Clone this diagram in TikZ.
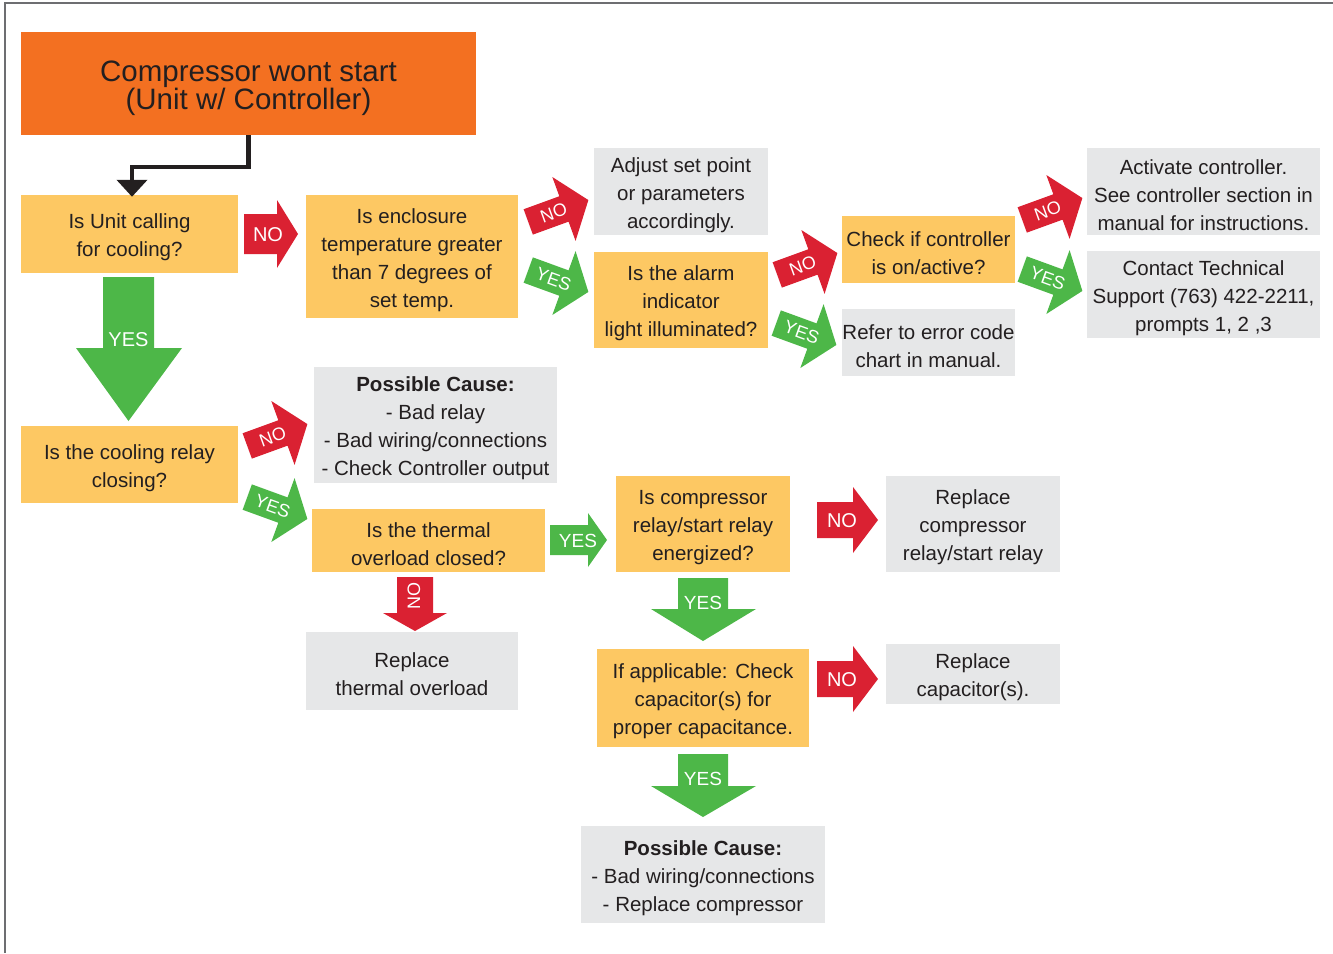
\documentclass[tikz,border=0pt]{standalone}
\usepackage{fontspec}
\setmainfont{Liberation Sans}
\usetikzlibrary{arrows.meta}
\definecolor{corange}{RGB}{243,112,33}
\definecolor{cyellow}{RGB}{253,200,99}
\definecolor{cgray}{RGB}{230,231,232}
\definecolor{cred}{RGB}{218,33,50}
\definecolor{cgreen}{RGB}{77,183,72}
\definecolor{ctext}{RGB}{35,31,32}
\definecolor{cborder}{RGB}{109,110,113}
\newcommand\fl{\rule{0pt}{22pt}}
\tikzset{
  box/.style={inner sep=0pt, align=center, text=ctext, font=\fontsize{20.5}{28}\selectfont},
  ybox/.style={box, fill=cyellow},
  gbox/.style={box, fill=cgray},
  lbl/.style={text=white, inner sep=0pt, font=\fontsize{20}{24}\selectfont},
  tlbl/.style={text=white, inner sep=0pt, font=\fontsize{18}{20}\selectfont},
}
% straight right block arrow: tailx, tipx, cy, shafthalf, headhalf, headlen, colour
\newcommand\harrow[7]{\fill[#7] (#1,#3-#4) -- (#2-#6,#3-#4) -- (#2-#6,#3-#5) -- (#2,#3) -- (#2-#6,#3+#5) -- (#2-#6,#3+#4) -- (#1,#3+#4) -- cycle;}
% down block arrow: shaftx1, shaftx2, top, headstart, headx1, headx2, tip, colour
\newcommand\varrow[8]{\fill[#8] (#1,#3) -- (#2,#3) -- (#2,#4) -- (#6,#4) -- ({(#1+#2)/2},#7) -- (#5,#4) -- (#1,#4) -- cycle;}
% tilted block arrow: name, cx, cy, angle, colour, label
\newcommand\tarrow[6]{%
  \begin{scope}[shift={(#2,#3)},rotate=#4]
    \fill[#5] (-32,-13.5) -- (6,-13.5) -- (6,-34) -- (32,0) -- (6,34) -- (6,13.5) -- (-32,13.5) -- cycle;
    \node[tlbl,rotate=#4] (#1) at (-5,0) {#6};
  \end{scope}}
\begin{document}
\begin{tikzpicture}[x=1pt,y=-1pt]
\useasboundingbox (0,0) rectangle (1333,953);
\draw[cborder, line width=1.2pt] (5,953) -- (5,3) -- (1333,3);

% title
\node[box, fill=corange, minimum width=455pt, minimum height=103pt, font=\fontsize{29.5}{28}\selectfont] (title) at (248.5,83.5) {\rule{0pt}{30pt}Compressor wont start\\(Unit w/ Controller)};

% boxes
\node[ybox, minimum width=217pt, minimum height=78pt] (q1) at (129.5,234) {\fl Is Unit calling\\for cooling?};
\node[ybox, minimum width=212pt, minimum height=123pt] (q2) at (412,256.5) {\fl Is enclosure\\temperature greater\\than 7 degrees of\\set temp.};
\node[gbox, minimum width=174pt, minimum height=87pt] (adjust) at (681,191.5) {\fl Adjust set point\\or parameters\\accordingly.};
\node[ybox, minimum width=174pt, minimum height=96pt] (alarm) at (681,300) {\fl Is the alarm\\indicator\\light illuminated?};
\node[ybox, minimum width=173pt, minimum height=67pt] (ctrl) at (928.5,249.5) {\fl Check if controller\\is on/active?};
\node[gbox, minimum width=173pt, minimum height=67pt] (err) at (928.5,342.5) {\fl Refer to error code\\chart in manual.};
\node[gbox, minimum width=233pt, minimum height=87pt] (activate) at (1203.5,191.5) {\fl Activate controller.\\See controller section in\\manual for instructions.};
\node[gbox, minimum width=233pt, minimum height=87pt] (contact) at (1203.5,294.5) {\fl Contact Technical\\Support (763) 422-2211,\\prompts 1, 2 ,3};
\node[ybox, minimum width=217pt, minimum height=77pt] (q3) at (129.5,464.5) {\fl Is the cooling relay\\closing?};
\node[gbox, minimum width=243pt, minimum height=116pt] (cause1) at (435.5,425) {\fl\textbf{Possible Cause:}\\- Bad relay\\- Bad wiring/connections\\- Check Controller output};
\node[ybox, minimum width=233pt, minimum height=63pt] (thermal) at (428.5,540.5) {\fl Is the thermal\\overload closed?};
\node[ybox, minimum width=174pt, minimum height=96pt] (relayq) at (703,524) {\fl Is compressor\\relay/start relay\\energized?};
\node[gbox, minimum width=174pt, minimum height=96pt] (replrelay) at (973,524) {\fl Replace\\compressor\\relay/start relay};
\node[gbox, minimum width=212pt, minimum height=78pt] (replthermal) at (412,671) {\fl Replace\\thermal overload};
\node[ybox, minimum width=212pt, minimum height=98pt] (cap) at (703,698) {\fl If applicable: Check\\capacitor(s) for\\proper capacitance.};
\node[gbox, minimum width=174pt, minimum height=60pt] (replcap) at (973,674) {\fl Replace\\capacitor(s).};
\node[gbox, minimum width=244pt, minimum height=97pt] (cause2) at (703,874.5) {\fl\textbf{Possible Cause:}\\- Bad wiring/connections\\- Replace compressor};

% black connector
\draw[line width=4.5pt, ctext, -{Triangle[width=30pt,length=17pt]}] (title.south) -- ++(0,32) -| ([xshift=2.5pt,yshift=-2pt]q1.north);

% straight arrows
\harrow{244}{298}{234}{20}{34}{21}{cred}
\node[lbl] (a1) at (268,235) {NO};
\harrow{550}{607}{540}{15}{27}{19}{cgreen}
\node[lbl, font=\fontsize{19}{22}\selectfont] (a2) at (578,541) {YES};
\harrow{817}{878}{520}{18}{33}{25}{cred}
\node[lbl] (a3) at (842,521) {NO};
\harrow{817}{878}{679}{18}{33}{25}{cred}
\node[lbl] (a4) at (842,680) {NO};

% down arrows
\varrow{103}{154}{277}{348}{76}{182}{421}{cgreen}
\node[lbl] (d1) at (128.5,340) {YES};
\varrow{397}{433}{577}{613}{383}{447}{631}{cred}
\node[tlbl, rotate=90] (d2) at (414,596) {NO};
\varrow{678}{728}{578}{609}{651}{756}{641}{cgreen}
\node[lbl, font=\fontsize{19}{22}\selectfont] (d3) at (703,603) {YES};
\varrow{678}{728}{754}{786}{651}{756}{817}{cgreen}
\node[lbl, font=\fontsize{19}{22}\selectfont] (d4) at (703,779) {YES};

% tilted arrows
\tarrow{r1}{558.3}{211}{20}{cred}{NO}
\tarrow{r2}{558.3}{281}{-20}{cgreen}{YES}
\tarrow{r3}{807.3}{264}{20}{cred}{NO}
\tarrow{r4}{806.3}{334}{-20}{cgreen}{YES}
\tarrow{r5}{1052.3}{209}{20}{cred}{NO}
\tarrow{r6}{1052.3}{280}{-20}{cgreen}{YES}
\tarrow{r7}{277.3}{435}{20}{cred}{NO}
\tarrow{r8}{277.3}{508}{-20}{cgreen}{YES}
\end{tikzpicture}
\end{document}
